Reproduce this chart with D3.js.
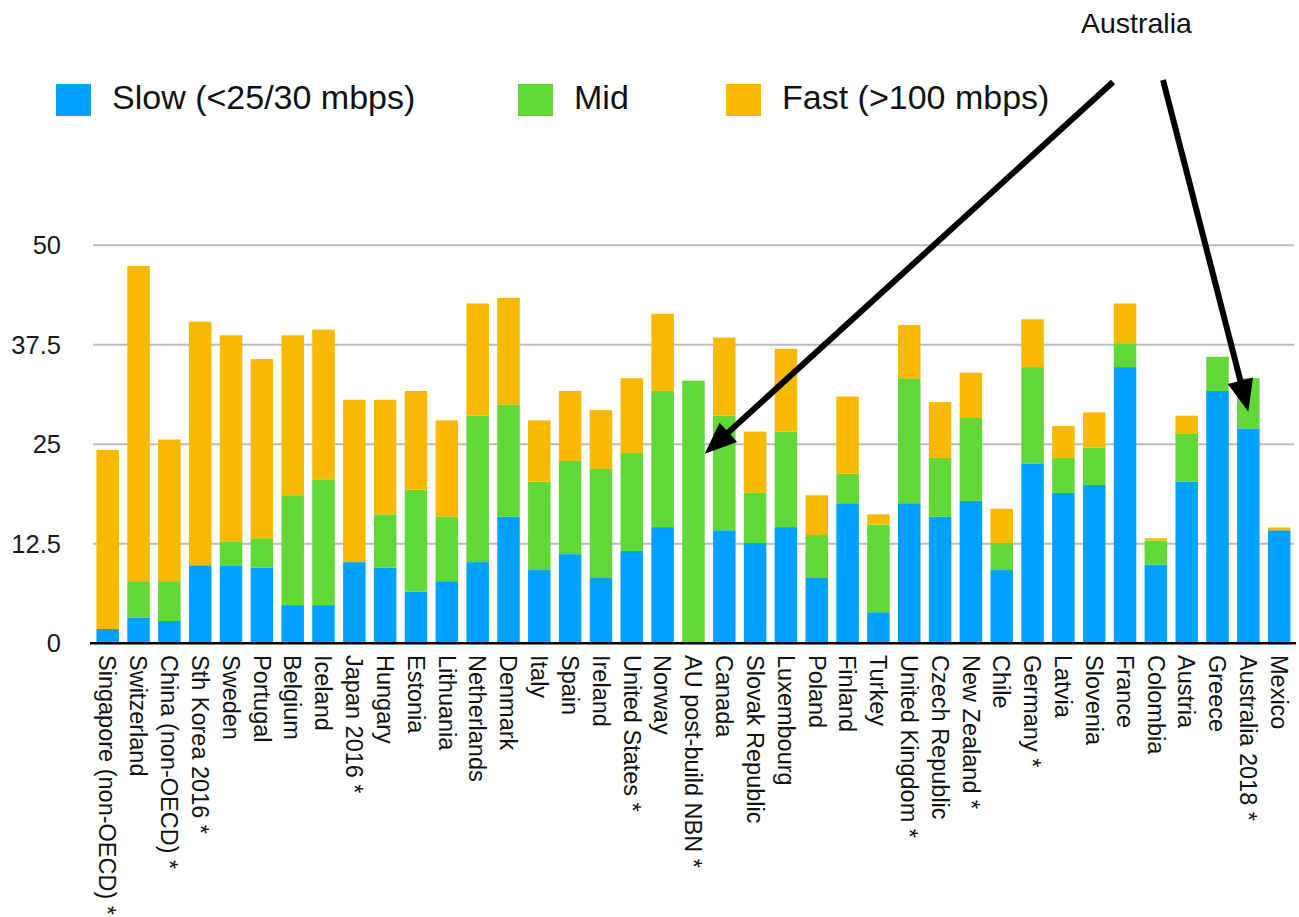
<!DOCTYPE html>
<html>
<head>
<meta charset="utf-8">
<script src="https://cdn.jsdelivr.net/npm/d3@7/dist/d3.min.js"></script>
<style>
  html, body { margin: 0; padding: 0; background: #fff; }
  svg { display: block; font-family: "Liberation Sans", Arial, Helvetica, sans-serif; }
</style>
</head>
<body>
<svg id="chart" width="1299" height="917"></svg>
<script>
// Broadband connections by speed tier, per country
const countries = [
  "Singapore (non-OECD) *", "Switzerland", "China (non-OECD) *", "Sth Korea 2016 *",
  "Sweden", "Portugal", "Belgium", "Iceland", "Japan 2016 *", "Hungary", "Estonia",
  "Lithuania", "Netherlands", "Denmark", "Italy", "Spain", "Ireland", "United States *",
  "Norway", "AU post-build NBN *", "Canada", "Slovak Republic", "Luxembourg", "Poland",
  "Finland", "Turkey", "United Kingdom *", "Czech Republic", "New Zealand *", "Chile",
  "Germany *", "Latvia", "Slovenia", "France", "Colombia", "Austria", "Greece",
  "Australia 2018 *", "Mexico"
];

const slow = [
  1.8, 3.2, 2.8, 9.8, 9.8, 9.5, 4.8, 4.8, 10.2, 9.5, 6.5,
  7.8, 10.2, 15.9, 9.2, 11.2, 8.2, 11.6, 14.6, 0, 14.2, 12.6, 14.6, 8.2,
  17.6, 3.9, 17.6, 15.9, 17.9, 9.2, 22.6, 18.9, 19.9, 34.7, 9.9, 20.3, 31.7,
  27.0, 14.2
];
const mid = [
  0, 4.6, 5.0, 0, 3.0, 3.7, 13.8, 15.8, 0, 6.7, 12.8,
  8.1, 18.4, 14.1, 11.1, 11.7, 13.7, 12.3, 17.1, 33.0, 14.4, 6.3, 12.0, 5.4,
  3.7, 11.0, 15.7, 7.4, 10.4, 3.4, 12.1, 4.4, 4.7, 3.0, 3.0, 6.0, 4.3,
  6.3, 0
];
const fast = [
  22.5, 39.6, 17.8, 30.6, 25.9, 22.5, 20.1, 18.8, 20.4, 14.4, 12.4,
  12.1, 14.1, 13.4, 7.7, 8.8, 7.4, 9.4, 9.7, 0, 9.8, 7.7, 10.4, 5.0,
  9.7, 1.3, 6.7, 7.0, 5.7, 4.3, 6.0, 4.0, 4.4, 5.0, 0.3, 2.3, 0,
  0, 0.35
];

const yTicks = [0, 12.5, 25, 37.5, 50];
const tierKeys = ["slow", "mid", "fast"];
const tierNames = ["Slow (<25/30 mbps)", "Mid", "Fast (>100 mbps)"];
const tierColors = ["#00A2FF", "#61D836", "#F8BA00"];

// Annotation: both arrows point at the Australian bars
const noteText = "Australia";
const noteArrows = [
  { from: [1113, 82], country: "AU post-build NBN *", side: "right", value: 23.8 },
  { from: [1163, 80], country: "Australia 2018 *", side: "center", value: 29.1 }
];

const svg = d3.select("#chart");

const x = d3.scaleBand()
  .domain(countries)
  .range([92.3, 1294.6])
  .paddingInner(0.27)
  .paddingOuter(0.135);

const y = d3.scaleLinear().domain([0, 50]).range([643.3, 245.3]);

// gridlines
svg.append("g")
  .selectAll("line")
  .data(yTicks.filter(d => d > 0))
  .join("line")
  .attr("x1", 93).attr("x2", 1294)
  .attr("y1", d => y(d)).attr("y2", d => y(d))
  .attr("stroke", "#bdbdbd").attr("stroke-width", 2);

// y tick labels
svg.append("g")
  .selectAll("text")
  .data(yTicks)
  .join("text")
  .attr("x", 61)
  .attr("y", d => y(d))
  .attr("dy", "0.36em")
  .attr("text-anchor", "end")
  .attr("font-size", 25.5)
  .attr("fill", "#1a1a1a")
  .text(d => d);

// stacked bars
const rows = countries.map((c, i) => ({ country: c, slow: slow[i], mid: mid[i], fast: fast[i] }));
const series = d3.stack().keys(tierKeys)(rows);

svg.append("g")
  .selectAll("g")
  .data(series)
  .join("g")
  .attr("fill", (d, i) => tierColors[i])
  .selectAll("rect")
  .data(d => d.filter(s => s[1] - s[0] > 0))
  .join("rect")
  .attr("x", d => x(d.data.country))
  .attr("width", x.bandwidth())
  .attr("y", d => y(d[1]))
  .attr("height", d => y(d[0]) - y(d[1]));

// baseline
svg.append("line")
  .attr("x1", 90).attr("x2", 1296)
  .attr("y1", y(0)).attr("y2", y(0))
  .attr("stroke", "#000").attr("stroke-width", 2.5);

// x labels (rotated)
svg.append("g")
  .selectAll("text")
  .data(countries)
  .join("text")
  .attr("transform", d => `translate(${x(d) + x.bandwidth() / 2},655) rotate(90)`)
  .attr("dy", "0.35em")
  .attr("text-anchor", "start")
  .attr("font-size", 23.5)
  .attr("fill", "#111")
  .text(d => d);

// legend
const legendX = [56, 518, 726];
const legend = svg.append("g")
  .selectAll("g")
  .data(tierNames)
  .join("g")
  .attr("transform", (d, i) => `translate(${legendX[i]},84)`);
legend.append("rect")
  .attr("width", 35).attr("height", 32)
  .attr("fill", (d, i) => tierColors[i]);
legend.append("text")
  .attr("x", 56).attr("y", 25)
  .attr("font-size", 34)
  .attr("fill", "#111")
  .text(d => d);

// annotation
svg.append("text")
  .attr("x", 1081).attr("y", 33)
  .attr("font-size", 28.5)
  .attr("fill", "#111")
  .text(noteText);

const headLen = 32, headHalf = 13;
noteArrows.forEach(a => {
  const bx = a.side === "right" ? x(a.country) + x.bandwidth() : x(a.country) + x.bandwidth() / 2;
  const tip = [bx, y(a.value)];
  const dx = tip[0] - a.from[0], dy = tip[1] - a.from[1];
  const len = Math.hypot(dx, dy);
  const ux = dx / len, uy = dy / len;
  const base = [tip[0] - ux * headLen, tip[1] - uy * headLen];
  svg.append("line")
    .attr("x1", a.from[0]).attr("y1", a.from[1])
    .attr("x2", base[0] + ux * 2).attr("y2", base[1] + uy * 2)
    .attr("stroke", "#000").attr("stroke-width", 6);
  const p1 = [base[0] - uy * headHalf, base[1] + ux * headHalf];
  const p2 = [base[0] + uy * headHalf, base[1] - ux * headHalf];
  svg.append("polygon")
    .attr("points", [tip, p1, p2].map(p => p.join(",")).join(" "))
    .attr("fill", "#000");
});
</script>
</body>
</html>
